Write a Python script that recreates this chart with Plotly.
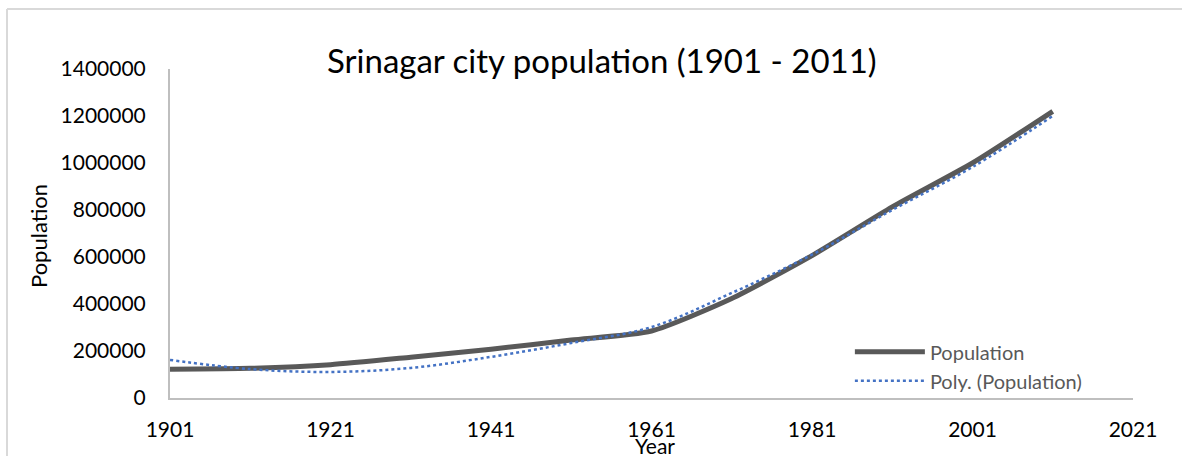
import plotly.graph_objects as go

years = [1901, 1911, 1921, 1931, 1941, 1951, 1961, 1971, 1981, 1991, 2001, 2011]
population = [122618, 126344, 141735, 173573, 207787, 246522, 285257, 423253, 606002, 813000, 1000000, 1220000]
trend = [162000, 123000, 111000, 128000, 175000, 234000, 302000, 447000, 610000, 800000, 983000, 1200000]

x_ticks = [1901, 1921, 1941, 1961, 1981, 2001, 2021]
y_ticks = [0, 200000, 400000, 600000, 800000, 1000000, 1200000, 1400000]

FONT = "Lato"

fig = go.Figure()
fig.add_trace(go.Scatter(
    x=years, y=population, mode="lines", name="Population",
    line=dict(color="#595959", width=5, shape="spline", smoothing=0.6),
))
fig.add_trace(go.Scatter(
    x=years, y=trend, mode="lines", name="Poly. (Population)",
    line=dict(color="#4472C4", width=2.5, dash="dot", shape="spline", smoothing=1.0),
))

fig.update_layout(
    width=1182, height=456,
    margin=dict(l=170, r=49, t=69, b=58),
    paper_bgcolor="white", plot_bgcolor="white",
    font=dict(family=FONT, size=20, color="#000000"),
    showlegend=True,
    legend=dict(
        x=0.706, y=0.20, xanchor="left", yanchor="top",
        bgcolor="rgba(0,0,0,0)",
        font=dict(family=FONT, size=20, color="#595959"),
        itemwidth=70, tracegroupgap=0,
    ),
    xaxis=dict(
        range=[1901, 2021], tickvals=x_ticks, ticktext=[str(v) for v in x_ticks],
        showgrid=False, zeroline=False, showline=True, linecolor="#BFBFBF", linewidth=2,
        ticks="", ticklabelstandoff=12, tickfont=dict(family=FONT, size=21, color="#000000"),
    ),
    yaxis=dict(
        range=[0, 1400000], tickvals=y_ticks, ticktext=[str(v) for v in y_ticks],
        showgrid=False, zeroline=False, showline=True, linecolor="#BFBFBF", linewidth=2,
        ticks="", ticklabelstandoff=18, tickfont=dict(family=FONT, size=21, color="#000000"),
    ),
    annotations=[
        dict(text="Srinagar city population (1901 - 2011)", xref="paper", yref="paper",
             x=(602 - 170) / 963, y=(398 - 60) / 329, xanchor="center", yanchor="middle", showarrow=False,
             font=dict(family=FONT, size=33, color="#000000")),
        dict(text="Year", xref="paper", yref="paper",
             x=(655 - 170) / 963, y=(398 - 445) / 329, xanchor="center", yanchor="middle",
             showarrow=False, font=dict(family=FONT, size=21, color="#000000")),
        dict(text="Population", xref="paper", yref="paper", textangle=-90,
             x=(38 - 170) / 963, y=(398 - 236) / 329, xanchor="center", yanchor="middle",
             showarrow=False, font=dict(family=FONT, size=22, color="#000000")),
    ],
    shapes=[
        dict(type="line", xref="paper", yref="paper",
             x0=(7 - 170) / 963, x1=(1190 - 170) / 963, y0=(398 - 9) / 329, y1=(398 - 9) / 329,
             line=dict(color="#D9D9D9", width=2)),
        dict(type="line", xref="paper", yref="paper",
             x0=(7 - 170) / 963, x1=(7 - 170) / 963, y0=(398 - 9) / 329, y1=(398 - 460) / 329,
             line=dict(color="#D9D9D9", width=2)),
    ],
)

fig.write_html(
    "out.html",
    config={"displayModeBar": False},
    post_script="document.body.style.margin='0';document.body.style.overflow='hidden';",
)
